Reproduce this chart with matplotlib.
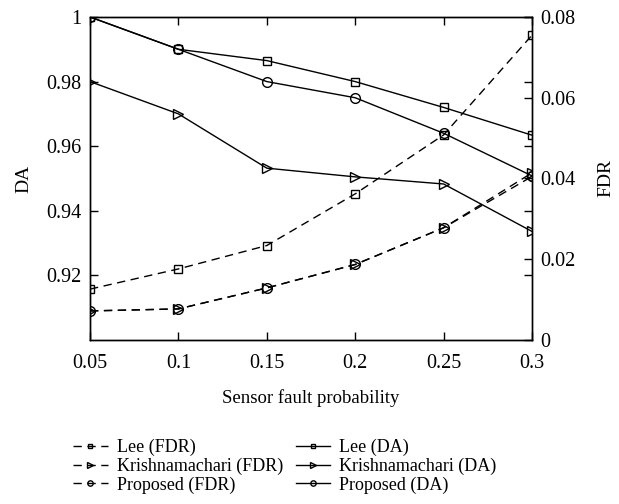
import numpy as np
import matplotlib
matplotlib.use("Agg")
import matplotlib.pyplot as plt

plt.rcParams['font.family'] = ['Liberation Serif', 'DejaVu Serif']

# data
prob = [0.05, 0.1, 0.15, 0.2, 0.25, 0.3]

lee_da = [1.0, 0.99, 0.9865, 0.98, 0.972, 0.9634]
krish_da = [0.98, 0.97, 0.9532, 0.9505, 0.9483, 0.9336]
prop_da = [1.0, 0.99, 0.98, 0.975, 0.964, 0.9508]

lee_fdr = [0.0126, 0.0176, 0.0234, 0.0362, 0.0508, 0.0755]
krish_fdr = [0.0072, 0.0077, 0.0129, 0.0187, 0.0278, 0.0414]
prop_fdr = [0.0072, 0.0077, 0.0129, 0.0187, 0.0278, 0.0405]

fig = plt.figure(figsize=(6.19, 5.04), dpi=100)
ax = fig.add_axes([0.1454, 0.3254, 0.7141, 0.6409])
ax2 = ax.twinx()

mk = dict(color='black', lw=1, mfc='none', mec='black', mew=1)
dash = (0, (6, 4))

# FDR (dashed) on the right axis
h1, = ax2.plot(prob, lee_fdr, ls=dash, marker='s', ms=5.5, label='Lee (FDR)', **mk)
h2, = ax2.plot(prob, krish_fdr, ls=dash, marker='>', ms=7, label='Krishnamachari (FDR)', **mk)
h3, = ax2.plot(prob, prop_fdr, ls=dash, marker='o', ms=7, label='Proposed (FDR)', **mk)

# DA (solid) on the left axis
h4, = ax.plot(prob, lee_da, ls='-', marker='s', ms=5.5, label='Lee (DA)', **mk)
h5, = ax.plot(prob, krish_da, ls='-', marker='>', ms=7, label='Krishnamachari (DA)', **mk)
h6, = ax.plot(prob, prop_da, ls='-', marker='o', ms=7, label='Proposed (DA)', **mk)

ax.set_xlim(0.05, 0.3)
ax.set_ylim(0.9, 1.0)
ax2.set_ylim(0, 0.08)

ax.set_xticks(prob)
ax.set_xticklabels(['0.05', '0.1', '0.15', '0.2', '0.25', '0.3'])
ax.set_yticks([0.92, 0.94, 0.96, 0.98, 1.0])
ax.set_yticklabels(['0.92', '0.94', '0.96', '0.98', '1'])
ax2.set_yticks([0, 0.02, 0.04, 0.06, 0.08])
ax2.set_yticklabels(['0', '0.02', '0.04', '0.06', '0.08'])

ax.tick_params(direction='in', top=True, right=True, labelright=False,
               labelsize=14.5, length=6, width=1)
ax.tick_params(axis='x', pad=10)
ax.tick_params(axis='y', pad=6)
ax2.tick_params(direction='in', labelsize=14.5, length=6, width=1, pad=6)

for a in (ax, ax2):
    for s in a.spines.values():
        s.set_linewidth(1)

ax.set_xlabel('Sensor fault probability', fontsize=13.5, labelpad=12)
ax.set_ylabel('DA', fontsize=14, labelpad=10)
ax2.set_ylabel('FDR', fontsize=14, labelpad=16)

fig.legend(handles=[h1, h2, h3, h4, h5, h6], ncol=2, loc='lower center',
           bbox_to_anchor=(0.46, -0.012), frameon=False, fontsize=13,
           markerscale=0.55, handlelength=1.9, handletextpad=0.5,
           columnspacing=0.7, labelspacing=0.08)

fig.savefig('out.png', dpi=100)
